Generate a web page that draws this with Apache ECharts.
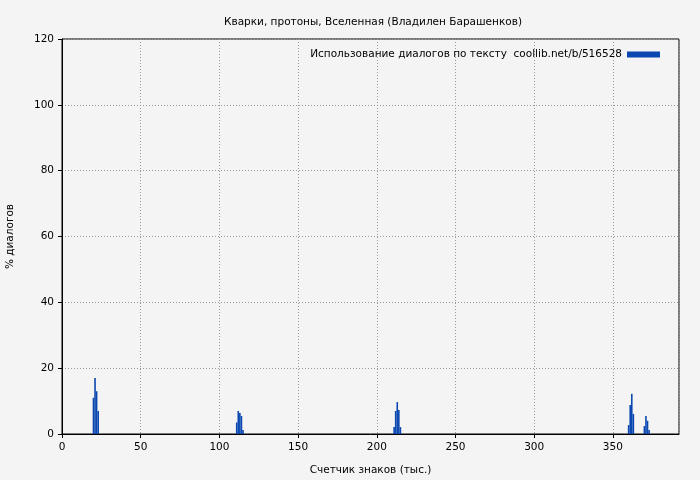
<!DOCTYPE html>
<html><head><meta charset="utf-8">
<script src="https://cdn.jsdelivr.net/npm/echarts@6/dist/echarts.min.js"></script>
<style>html,body{margin:0;padding:0;background:#f4f4f4}#c{width:700px;height:480px}</style>
</head><body><div id="c"></div>
<script>
const titleText = "Кварки, протоны, Вселенная (Владилен Барашенков)";
const seriesName = "Использование диалогов по тексту  coollib.net/b/516528";
const xName = "Счетчик знаков (тыс.)";
const yName = "% диалогов";
const positions = [20, 21, 22, 23, 111, 112, 113, 114, 115, 211, 212, 213, 214, 215, 360, 361, 362, 363, 370, 371, 372, 373];
const values =    [11, 17, 13, 7, 3.5, 7, 6.4, 5.5, 1.2, 2.1, 7, 9.7, 7.3, 2.1, 2.7, 8.8, 12.2, 6.1, 2.4, 5.5, 4, 1.2];
const data = positions.map((p, i) => [p, values[i]]);
const F = "DejaVu Sans";
const FS = 10.5;
const chart = echarts.init(document.getElementById('c'));
chart.setOption({
  backgroundColor: '#f4f4f4',
  animation: false,
  title: { text: titleText, left: 368, top: 12, textAlign: 'center',
    textStyle: { fontFamily: F, fontSize: FS, fontWeight: 'normal', color: '#000' } },
  legend: { right: 35, top: 44, align: 'right', icon: 'rect', itemWidth: 33, itemHeight: 6, itemGap: 10,
    textStyle: { fontFamily: F, fontSize: FS, color: '#000' }, data: [seriesName] },
  grid: { left: 62, right: 21, top: 39, bottom: 46, containLabel: false, outerBoundsMode: 'none',
    show: true, borderColor: '#000', borderWidth: 1, backgroundColor: 'transparent' },
  xAxis: { type: 'value', min: 0, max: 392, interval: 50,
    name: xName, nameLocation: 'middle', nameGap: 31,
    nameTextStyle: { fontFamily: F, fontSize: FS, color: '#000' },
    axisLine: { lineStyle: { color: '#000' } },
    axisTick: { show: true, length: 4, lineStyle: { color: '#000' } },
    axisLabel: { fontFamily: F, fontSize: FS, color: '#000', margin: 8, showMaxLabel: false },
    splitLine: { show: true, lineStyle: { color: '#999', type: [1, 2] } } },
  yAxis: { type: 'value', min: 0, max: 120, interval: 20,
    name: yName, nameLocation: 'middle', nameGap: 46,
    nameTextStyle: { fontFamily: F, fontSize: FS, color: '#000' },
    axisLine: { show: true, lineStyle: { color: '#000' } },
    axisTick: { show: true, length: 4, lineStyle: { color: '#000' } },
    axisLabel: { fontFamily: F, fontSize: FS, color: '#000', margin: 8 },
    splitLine: { show: true, lineStyle: { color: '#999', type: [1, 2] } } },
  series: [{ name: seriesName, type: 'bar', data: data, barWidth: 1.6, barGap: '0%',
    itemStyle: { color: '#0a47b0' } }]
});
</script></body></html>
